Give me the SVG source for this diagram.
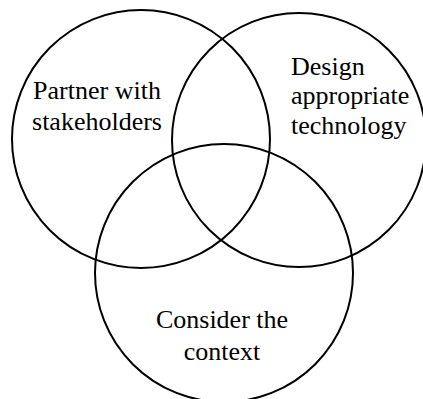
<svg xmlns="http://www.w3.org/2000/svg" width="423" height="399" viewBox="0 0 423 399">
  <style>
    .ring { fill: none; stroke: #000; stroke-width: 2; }
    .label { font-family: "Liberation Serif", "Times New Roman", serif; font-size: 26px; fill: #000; }
  </style>
  <rect width="423" height="399" fill="#fff"/>
  <g id="partner">
    <circle class="ring" cx="141" cy="139" r="129"/>
    <text class="label" x="97" y="99" text-anchor="middle">Partner with</text>
    <text class="label" x="97" y="130" text-anchor="middle">stakeholders</text>
  </g>
  <g id="design">
    <circle class="ring" cx="299" cy="140" r="127"/>
    <text class="label" x="291" y="75">Design</text>
    <text class="label" x="291" y="104">appropriate</text>
    <text class="label" x="291" y="134">technology</text>
  </g>
  <g id="context">
    <circle class="ring" cx="224" cy="273" r="129"/>
    <text class="label" x="222" y="328" text-anchor="middle">Consider the</text>
    <text class="label" x="222" y="360" text-anchor="middle">context</text>
  </g>
</svg>
